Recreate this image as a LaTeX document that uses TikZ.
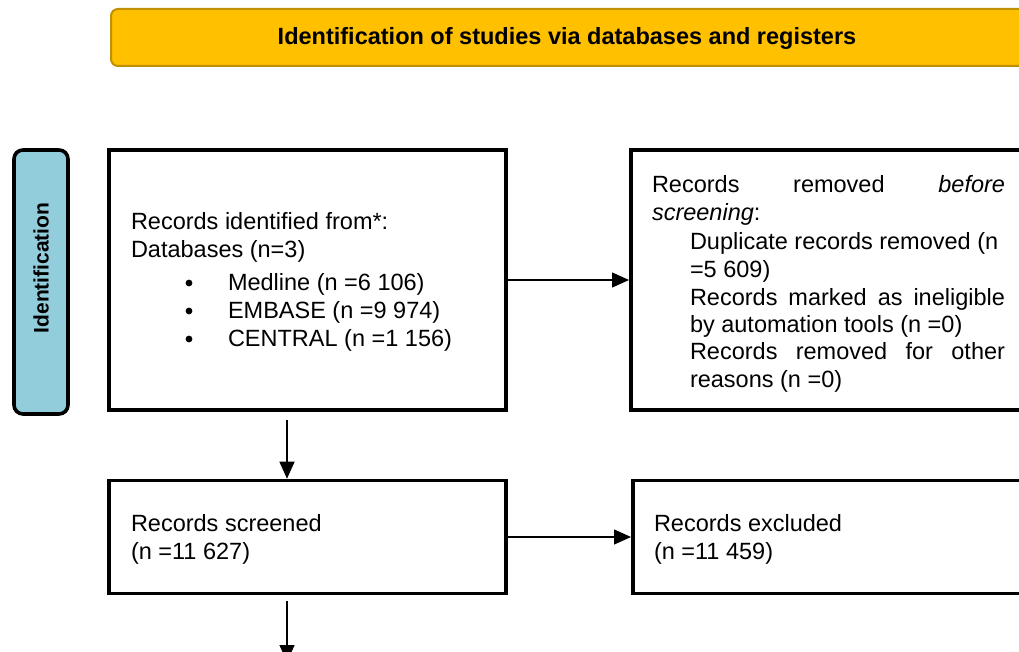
\documentclass[tikz,border=0pt]{standalone}
\usepackage{fontspec}
\setmainfont{Liberation Sans}
\usetikzlibrary{arrows.meta}
\definecolor{bannerfill}{HTML}{FFC000}
\definecolor{bannerdraw}{HTML}{BF9000}
\definecolor{sidefill}{HTML}{92CDDC}
\tikzset{
  flowbox/.style={draw=black, line width=3.6pt, inner sep=0pt, align=left},
  flowarrow/.style={line width=1.3pt, -{Triangle[length=17pt,width=15pt]}},
  txt/.style={inner sep=0pt, outer sep=0pt, anchor=base west, font=\fontsize{23.5}{28}\selectfont},
  bul/.style={fill=black}
}
\begin{document}
\begin{tikzpicture}[x=1pt,y=1pt]
\useasboundingbox (0,0) rectangle (1019,-652);
% banner
\draw[fill=bannerfill, draw=bannerdraw, line width=2pt, rounded corners=7pt] (111,-9) rectangle (1030,-66);
\node[inner sep=0pt, font=\fontsize{23.5}{28}\selectfont\bfseries] (banner) at (567,-38) {Identification of studies via databases and registers};
% side bar
\draw[fill=sidefill, draw=black, line width=3.6pt, rounded corners=9pt] (14,-150) rectangle (68,-414);
\node[rotate=90, inner sep=0pt, font=\fontsize{21}{24}\selectfont\bfseries] (side) at (41,-268) {Identification};
% boxes
\node[flowbox, minimum width=397pt, minimum height=260pt] (b1) at (307.5,-280) {};
\node[flowbox, minimum width=420pt, minimum height=260pt, anchor=west] (b2) at (629,-280) {};
\node[flowbox, minimum width=397pt, minimum height=113pt] (b3) at (307.5,-537) {};
\node[flowbox, minimum width=420pt, minimum height=113pt, anchor=west] (b4) at (631,-537) {};
% box1 text
\node[txt] (t1a) at (131,-230) {Records identified from*:};
\node[txt] (t1b) at (131,-258) {Databases (n=3)};
\fill[bul] (189,-283) circle (3.4pt);
\fill[bul] (189,-311) circle (3.4pt);
\fill[bul] (189,-339) circle (3.4pt);
\node[txt] (t1c) at (228,-290) {Medline (n =6 106)};
\node[txt] (t1d) at (228,-318) {EMBASE (n =9 974)};
\node[txt] (t1e) at (228,-346) {CENTRAL (n =1 156)};
% box2 text
\node[txt] (t2a) at (652,-193) {\hbox to 353pt{Records\hfill removed\hfill \textit{before}}};
\node[txt] (t2b) at (652,-221) {\textit{screening}:};
\node[txt] (t2c) at (690,-249) {Duplicate records removed (n};
\node[txt] (t2d) at (690,-277) {=5 609)};
\node[txt] (t2e) at (690,-305) {\hbox to 315pt{Records\hfill marked\hfill as\hfill ineligible}};
\node[txt] (t2f) at (690,-332) {by automation tools (n =0)};
\node[txt] (t2g) at (690,-359) {\hbox to 315pt{Records\hfill removed\hfill for\hfill other}};
\node[txt] (t2h) at (690,-387) {reasons (n =0)};
% box3 / box4 text
\node[txt] (t3a) at (131,-531) {Records screened};
\node[txt] (t3b) at (131,-559) {(n =11 627)};
\node[txt] (t4a) at (654,-531) {Records excluded};
\node[txt] (t4b) at (654,-559) {(n =11 459)};
% arrows
\draw[flowarrow] (b1.east) -- (b2.west);
\draw[flowarrow] (b3.east) -- (b4.west);
\draw[flowarrow, shorten <=8pt] (b1.south -| 287,0) -- (b3.north -| 287,0);
\coordinate (endpt) at (287,-662);
\draw[flowarrow, shorten <=6pt] (b3.south -| 287,0) -- (endpt);
\end{tikzpicture}
\end{document}
